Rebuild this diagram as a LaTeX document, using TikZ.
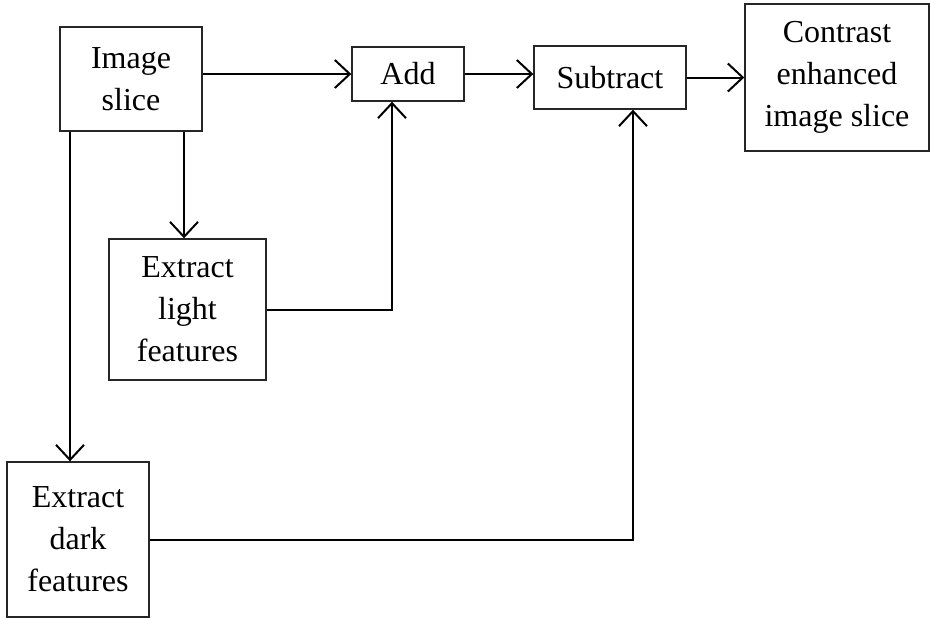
\documentclass[tikz,border=0pt]{standalone}
\usepackage{fontspec}
\setmainfont{Liberation Serif}
\usetikzlibrary{arrows.meta}
\begin{document}
\begin{tikzpicture}[x=1pt,y=-1pt,
  box/.style={draw=black!85,line width=1.4pt,rectangle,inner sep=0pt,align=center,
    font=\fontsize{32}{42}\selectfont},
  conn/.style={line width=2pt,-{Straight Barb[length=15pt,width=28pt,line width=2pt]}}]
\useasboundingbox (0,0) rectangle (930,619);
\node[box,minimum width=142pt,minimum height=104pt] (slice) at (131,79) {Image\\slice};
\node[box,minimum width=112pt,minimum height=54pt] (add) at (408,74) {Add};
\node[box,minimum width=152pt,minimum height=63pt] (sub) at (610,77.5) {Subtract};
\node[box,minimum width=184pt,minimum height=147pt] (out) at (837,77.5) {Contrast\\enhanced\\image slice};
\node[box,minimum width=157pt,minimum height=141pt] (light) at (187.5,309.5) {Extract\\light\\features};
\node[box,minimum width=142pt,minimum height=155pt] (dark) at (78,539.5) {Extract\\dark\\features};
\draw[conn] (slice.east |- add.west) -- (add.west);
\draw[conn] (add.east) -- (add.east -| sub.west);
\draw[conn] (sub.east) -- (sub.east -| out.west);
\draw[conn] ([xshift=53pt]slice.south) -- ([xshift=53pt]slice.south |- light.north);
\draw[conn] ([xshift=-61pt]slice.south) -- ([xshift=-61pt]slice.south |- dark.north);
\draw[conn] (light.east) -| ([xshift=-16pt]add.south);
\draw[conn] (dark.east) -| ([xshift=23pt]sub.south);
\end{tikzpicture}
\end{document}
